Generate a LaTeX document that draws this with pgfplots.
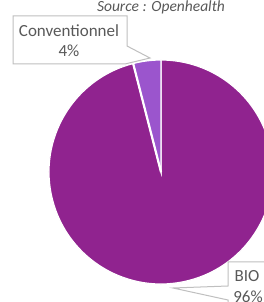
\documentclass[border=0pt]{standalone}
\usepackage{pgfplots}
\usepackage{pgfplotstable}
\pgfplotsset{compat=1.18}
\usepackage{fontspec}
\setmainfont{Carlito}
\definecolor{bio}{RGB}{144,35,143}
\definecolor{conv}{RGB}{155,85,205}
\definecolor{txt}{RGB}{89,89,89}
\definecolor{boxc}{RGB}{191,191,191}
\pgfplotstableread{
label value
Conventionnel 4
BIO 96
}\piedata
\pgfplotstablegetelem{0}{value}\of\piedata \let\vconv\pgfplotsretval
\pgfplotstablegetelem{1}{value}\of\piedata \let\vbio\pgfplotsretval
\pgfmathsetmacro\aconv{90+3.6*\vconv}
\pgfmathsetmacro\abio{\aconv+3.6*\vbio}
\begin{document}
\begin{tikzpicture}
\path[use as bounding box] (0,0) rectangle (264pt,302pt);
\clip (0,0) rectangle (264pt,302pt);
\begin{axis}[at={(0pt,0pt)}, anchor=south west, scale only axis, width=264pt, height=302pt,
  xmin=0, xmax=264, ymin=0, ymax=302, hide axis, clip=false]
\fill[bio, draw=white, line width=1.2pt] (axis cs:161,130) -- ++(\aconv:112pt) arc[start angle=\aconv, end angle=\abio, radius=112pt] -- cycle;
\fill[conv, draw=white, line width=1.2pt] (axis cs:161,130) -- ++(90:112pt) arc[start angle=90, end angle=\aconv, radius=112pt] -- cycle;
\draw[white, line width=2.2pt] (axis cs:161,130) -- ++(\aconv:113pt);
% callouts
\filldraw[fill=white, draw=boxc, line width=1pt] (axis cs:13,286) -- (axis cs:127,286) -- (axis cs:127,256) -- (axis cs:150,244) -- (axis cs:125,238) -- (axis cs:13,238) -- cycle;
\node[txt, font=\fontsize{17}{20}\selectfont, anchor=base] at (axis cs:69,265) {Conventionnel};
\node[txt, font=\fontsize{17}{20}\selectfont, anchor=base] at (axis cs:69,245) {4\%};
\filldraw[fill=white, draw=boxc, line width=1pt] (axis cs:228,40) -- (axis cs:275,40) -- (axis cs:275,-10) -- (axis cs:228,-10) -- (axis cs:228,2) -- (axis cs:173,14) -- (axis cs:228,16) -- cycle;
\node[txt, font=\fontsize{17}{20}\selectfont, anchor=base] at (axis cs:247,20) {BIO};
\node[txt, font=\fontsize{17}{20}\selectfont, anchor=base] at (axis cs:248,0) {96\%};
\node[txt, font=\fontsize{15.5}{18}\selectfont\itshape, anchor=base] at (axis cs:161,290) {Source : Openhealth};
\end{axis}
\end{tikzpicture}
\end{document}
